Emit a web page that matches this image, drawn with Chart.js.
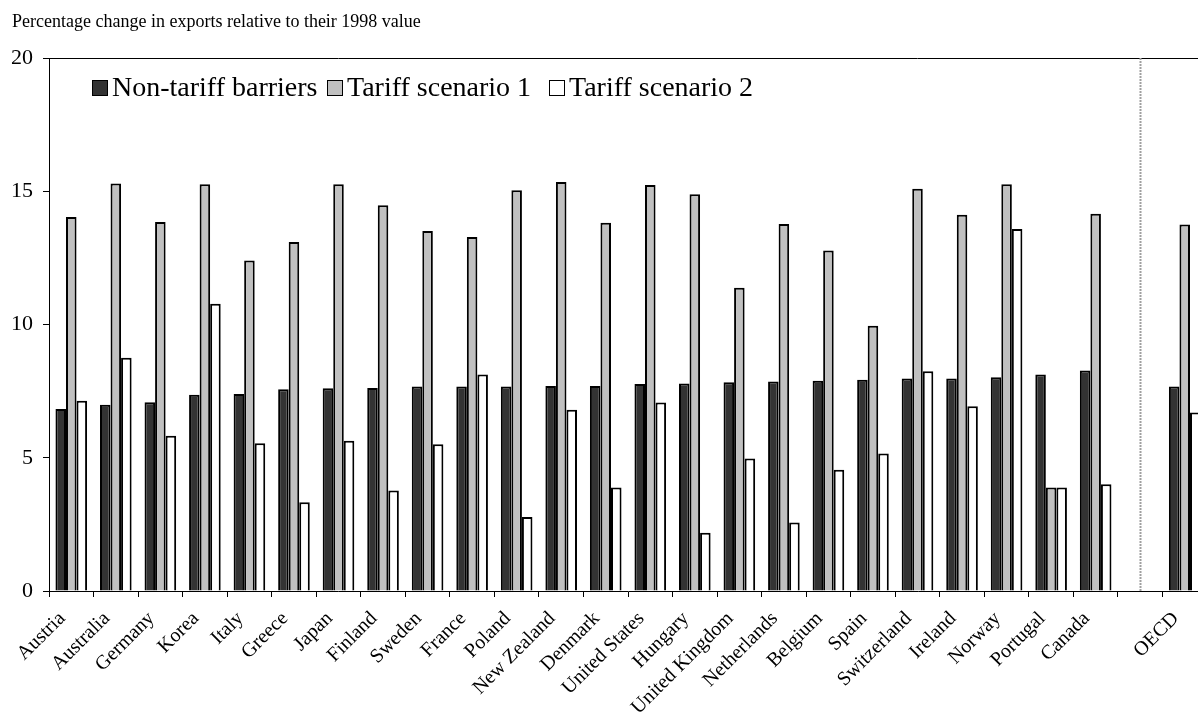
<!DOCTYPE html>
<html>
<head>
<meta charset="utf-8">
<script src="https://cdn.jsdelivr.net/npm/chart.js@4.4.1/dist/chart.umd.min.js"></script>
<style>
  html, body { margin: 0; padding: 0; background: #fff; overflow: hidden; }
  #wrap { position: relative; width: 1215px; height: 718px; }
  .legend-item {
    position: absolute; top: 71px;
    font-family: "Liberation Serif", "Times New Roman", serif; font-size: 28px;
    color: #000; white-space: nowrap; line-height: 31px;
  }
  .legend-item span.box {
    display: inline-block; width: 14px; height: 14px;
    border: 1.5px solid #000; margin-right: 4px; vertical-align: 0px;
  }
</style>
</head>
<body>
<div id="wrap">
  <canvas id="chart" width="1215" height="718"></canvas>
</div>
<script>
const titleText = "Percentage change in exports relative to their 1998 value";

// the empty slot separates the countries from the OECD average
const countries = ["Austria", "Australia", "Germany", "Korea", "Italy", "Greece", "Japan", "Finland",
  "Sweden", "France", "Poland", "New Zealand", "Denmark", "United States", "Hungary", "United Kingdom",
  "Netherlands", "Belgium", "Spain", "Switzerland", "Ireland", "Norway", "Portugal", "Canada", "", "OECD"];

const nonTariff = [6.83, 6.99, 7.08, 7.36, 7.39, 7.57, 7.61, 7.62, 7.67, 7.67, 7.67, 7.69, 7.69,
  7.77, 7.79, 7.83, 7.86, 7.89, 7.93, 7.97, 7.97, 8.02, 8.12, 8.27, null, 7.67];
const tariff1 = [14.03, 15.29, 13.85, 15.26, 12.4, 13.1, 15.26, 14.47, 13.51, 13.28, 15.04, 15.35, 13.82,
  15.23, 14.89, 11.38, 13.77, 12.78, 9.95, 15.09, 14.12, 15.26, 3.88, 14.16, null, 13.75];
const tariff2 = [7.14, 8.75, 5.83, 10.78, 5.54, 3.33, 5.64, 3.77, 5.51, 8.12, 2.78, 6.80, 3.88,
  7.07, 2.19, 4.97, 2.57, 4.55, 5.16, 8.25, 6.93, 13.58, 3.88, 4.01, null, 6.70];

const seriesNames = ["Non-tariff barriers", "Tariff scenario 1", "Tariff scenario 2"];
const seriesColors = ["#333333", "#c0c0c0", "#ffffff"];

const serif = "'Liberation Serif', 'Times New Roman', serif";

// title, top frame line and the dotted separator before OECD
const extras = {
  id: "extras",
  beforeDraw(chart) {
    const ctx = chart.ctx;
    ctx.save();
    ctx.fillStyle = "#000";
    ctx.font = "18px " + serif;
    ctx.textBaseline = "alphabetic";
    ctx.fillText(titleText, 12, 27);
    ctx.restore();
  },
  afterDatasetsDraw(chart) {
    const ctx = chart.ctx;
    const a = chart.chartArea;
    ctx.save();
    ctx.strokeStyle = "#000";
    ctx.lineWidth = 1;
    ctx.beginPath();
    ctx.moveTo(a.left, a.top + 0.5);
    ctx.lineTo(a.right, a.top + 0.5);
    ctx.stroke();
    const x = Math.round(chart.scales.x.getPixelForValue(countries.indexOf(""))) + 0.5;
    ctx.strokeStyle = "#a0a0a0";
    ctx.lineWidth = 2;
    ctx.setLineDash([2, 1]);
    ctx.beginPath();
    ctx.moveTo(x, a.top);
    ctx.lineTo(x, a.bottom);
    ctx.stroke();
    ctx.restore();
  }
};

const datasets = [nonTariff, tariff1, tariff2].map((vals, i) => ({
  label: seriesNames[i],
  data: vals,
  backgroundColor: seriesColors[i],
  borderColor: "#000",
  borderWidth: 2,
  categoryPercentage: 0.71,
  barPercentage: 1.0
}));

new Chart(document.getElementById("chart"), {
  type: "bar",
  data: { labels: countries, datasets: datasets },
  plugins: [extras],
  options: {
    responsive: false,
    animation: false,
    layout: { padding: { top: 58, right: 8, left: 0, bottom: 0 } },
    plugins: { legend: { display: false }, title: { display: false }, tooltip: { enabled: false } },
    scales: {
      x: {
        grid: { offset: true, drawOnChartArea: false, tickLength: 6, color: "#000" },
        border: { color: "#000", width: 1 },
        ticks: {
          autoSkip: false, maxRotation: 45, minRotation: 45, padding: 10, labelOffset: -9,
          color: "#000", font: { family: serif, size: 20 }
        },
        afterFit(scale) { scale.height = 127; }
      },
      y: {
        min: 0, max: 20,
        grid: { drawOnChartArea: false, tickLength: 6, color: "#000" },
        border: { color: "#000", width: 1 },
        ticks: { stepSize: 5, padding: 10, color: "#000", font: { family: serif, size: 22 } },
        afterFit(scale) { scale.width = 49; }
      }
    }
  }
});

// legend entries sit inside the plot, along the top
const legendLeft = [92, 327, 549];
const wrap = document.getElementById("wrap");
seriesNames.forEach((name, i) => {
  const item = document.createElement("div");
  item.className = "legend-item";
  item.style.left = legendLeft[i] + "px";
  const box = document.createElement("span");
  box.className = "box";
  box.style.background = seriesColors[i];
  item.appendChild(box);
  item.appendChild(document.createTextNode(name));
  wrap.appendChild(item);
});
</script>
</body>
</html>
